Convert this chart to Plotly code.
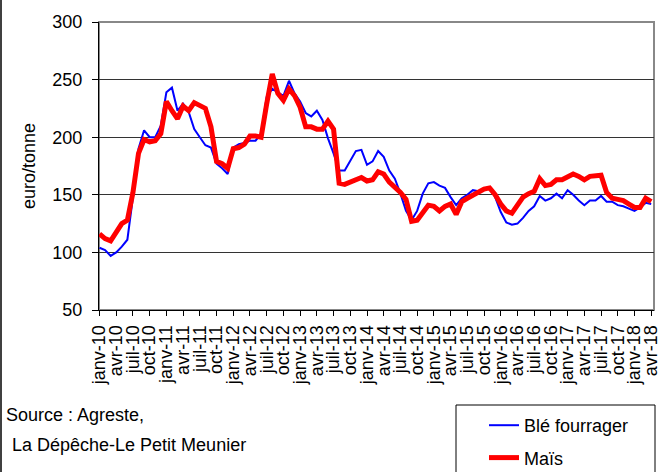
import plotly.graph_objects as go

MONTH_NAMES = ["janv", "févr", "mars", "avr", "mai", "juin",
               "juil", "août", "sept", "oct", "nov", "déc"]
MONTHS = [f"{m}-{y:02d}" for y in range(10, 19) for m in MONTH_NAMES][:100]
TICK_LABELS = MONTHS[::3]

BLE = [104, 102, 97, 100, 105, 111, 148, 190, 206, 200, 200, 210,
       239, 243, 223, 229, 222, 207, 200, 193, 191, 177, 173, 168,
       191, 194, 195, 197, 197, 203, 235, 242, 239, 236, 249, 238,
       231, 221, 218, 223, 215, 199, 186, 171, 171, 180, 188, 189,
       176, 179, 188, 183, 171, 164, 151, 136, 128, 136, 151, 160,
       161, 158, 156, 148, 141, 147, 150, 154, 153, 155, 156, 148,
       135, 126, 124, 125, 130, 136, 140, 149, 145, 147, 151, 147,
       154, 150, 145, 141, 145, 145, 149, 144, 144, 141, 140, 138,
       136, 139, 143, 142]

MAIS = [116, 112, 110, 118, 125, 128, 152, 186, 198, 196, 197, 203,
        231, 223, 216, 227, 223, 230, 228, 225, 209, 179, 177, 173,
        190, 191, 194, 201, 201, 200, 229, 255, 238, 232, 242, 236,
        226, 209, 209, 207, 207, 214, 207, 160, 159, 161, 163, 165,
        162, 163, 170, 168, 161, 157, 152, 146, 127, 128, 135, 141,
        140, 136, 140, 142, 133, 144, 147, 150, 153, 155, 156, 150,
        142, 136, 134, 141, 148, 151, 153, 164, 158, 159, 163, 163,
        166, 168, 166, 163, 166, 166, 167, 152, 147, 146, 145, 142,
        139, 139, 147, 144]

FONT = "Liberation Sans, Arial, sans-serif"

W, H = 659, 472
L, R, T, B = 99, 5, 22, 162
PW, PH = W - L - R, H - T - B


def px(x):
    return (x - L) / PW


def py(y):
    return (H - B - y) / PH


fig = go.Figure()
fig.add_trace(go.Scatter(x=MONTHS, y=BLE, mode="lines", name="Blé fourrager",
                         legendgroup="a",
                         line=dict(color="#0000FF", width=2)))
fig.add_trace(go.Scatter(x=MONTHS, y=MAIS, mode="lines", name="Maïs",
                         legendgroup="b",
                         line=dict(color="#FF0000", width=5)))

fig.update_layout(
    width=W, height=H,
    margin=dict(l=L, r=R, t=T, b=B, pad=0, autoexpand=False),
    paper_bgcolor="white", plot_bgcolor="white",
    font=dict(family=FONT, size=18, color="black"),
    xaxis=dict(type="category", range=[-0.09, 99.5], automargin=False,
               tickmode="array", tickvals=TICK_LABELS, ticktext=TICK_LABELS,
               tickangle=-90, ticks="outside", ticklen=5, tickcolor="black",
               showline=True, linecolor="black", linewidth=1,
               showgrid=False, zeroline=False, ticklabelstandoff=2,
               tickfont=dict(size=18)),
    yaxis=dict(range=[50, 300], dtick=50, ticks="outside", ticklen=6,
               automargin=False, ticklabelstandoff=6,
               tickcolor="black", showline=True, linecolor="black",
               linewidth=1, showgrid=True, gridcolor="#333333", gridwidth=1,
               zeroline=False, tickfont=dict(size=18),
               title=dict(text="euro/tonne", font=dict(size=18), standoff=12)),
    showlegend=True,
    legend=dict(x=px(484), y=py(407), xanchor="left", yanchor="top",
                bgcolor="rgba(0,0,0,0)", borderwidth=0,
                font=dict(size=18), tracegroupgap=6, itemwidth=30),
    shapes=[
        dict(type="rect", xref="paper", yref="paper", x0=0, x1=1, y0=0, y1=1,
             line=dict(color="#888888", width=2), layer="below"),
        dict(type="rect", xref="paper", yref="paper",
             x0=px(456), x1=px(655), y0=py(405), y1=py(476),
             line=dict(color="black", width=1)),
        dict(type="line", xref="paper", yref="paper",
             x0=px(1), x1=px(1), y0=py(0), y1=py(472),
             line=dict(color="black", width=1.5)),
    ],
    annotations=[
        dict(text="Source : Agreste,", xref="paper", yref="paper",
             x=px(4), y=py(415), xanchor="left", yanchor="middle",
             showarrow=False, font=dict(size=18)),
        dict(text="La Dépêche-Le Petit Meunier", xref="paper", yref="paper",
             x=px(10), y=py(445), xanchor="left", yanchor="middle",
             showarrow=False, font=dict(size=18)),
    ],
)

fig.write_html(
    "out.html",
    config={"displayModeBar": False},
    post_script="document.body.style.margin='0';document.body.style.overflow='hidden';",
)
